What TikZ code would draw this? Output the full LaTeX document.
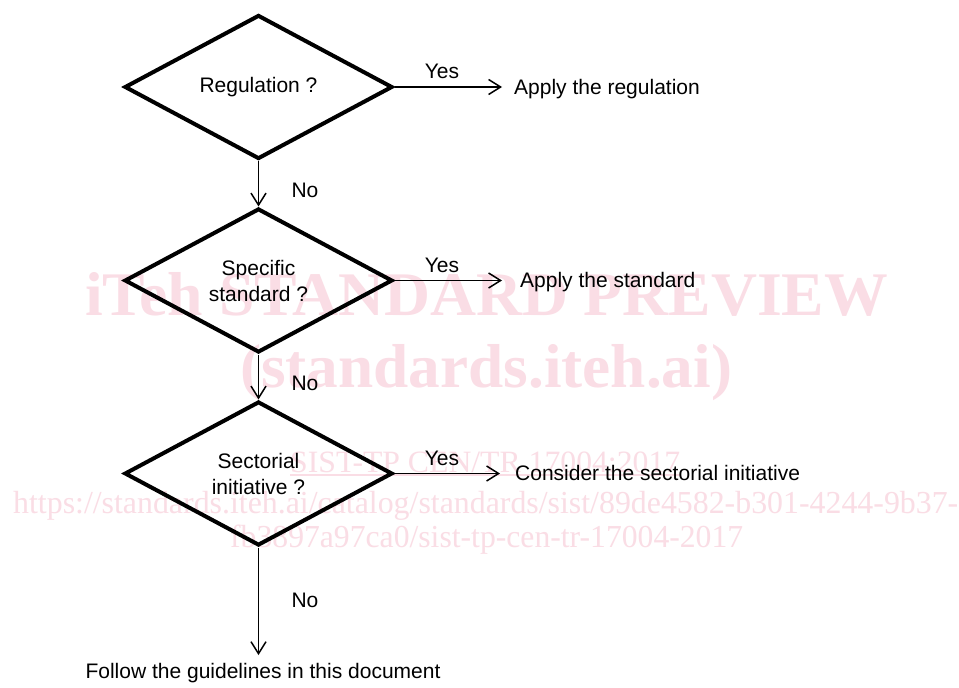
\documentclass[tikz,border=0pt]{standalone}
\usepackage{fontspec}
\usepackage{graphicx}
\setmainfont{Liberation Sans}
\newfontfamily\wmfont{Liberation Serif}
\usetikzlibrary{shapes.geometric,arrows.meta}
\definecolor{wmpink}{RGB}{250,221,229}
\begin{document}
\begin{tikzpicture}[x=1pt,y=-1pt,
  dec/.style={draw, diamond, line width=4pt, minimum width=268pt, minimum height=144pt,
    inner sep=0pt, align=center, font=\fontsize{21}{26}\selectfont},
  lbl/.style={inner sep=0pt, font=\fontsize{21}{26}\selectfont},
  conn/.style={line width=1.5pt, -{Straight Barb[length=12pt,width=15pt,line width=1.5pt]}},
  wm/.style={inner sep=0pt, anchor=base west, text=wmpink}]
\useasboundingbox[fill=white] (0,0) rectangle (959,688);

% watermark
\node[wm] (w1) at (85,315) {\resizebox{803pt}{\height}{\wmfont\bfseries\fontsize{62}{62}\selectfont iTeh STANDARD PREVIEW}};
\node[wm] (w2) at (240,387) {\resizebox{492pt}{\height}{\wmfont\bfseries\fontsize{62}{62}\selectfont (standards.iteh.ai)}};
\node[wm] (w3) at (290,472) {\resizebox{390pt}{\height}{\wmfont\fontsize{31}{31}\selectfont SIST-TP CEN/TR 17004:2017}};
\draw[wmpink, line width=1.5pt] ([yshift=-3pt]w3.base west) -- ([yshift=-3pt]w3.base east);
\node[wm] (w4) at (13,513) {\resizebox{945pt}{\height}{\wmfont\fontsize{32}{32}\selectfont https://standards.iteh.ai/catalog/standards/sist/89de4582-b301-4244-9b37-}};
\node[wm] (w5) at (230,547) {\resizebox{513pt}{\height}{\wmfont\fontsize{32}{32}\selectfont fb3897a97ca0/sist-tp-cen-tr-17004-2017}};

% decisions
\node[dec] (d1) at (258.5,87) {Regulation ?};
\node[dec] (d2) at (258.5,280.5) {Specific\\standard ?};
\node[dec] (d3) at (258.5,473.5) {Sectorial\\initiative ?};

% outcomes
\node[lbl, anchor=base west] (r1) at (514,94) {Apply the regulation};
\node[lbl, anchor=base west] (r2) at (520,287) {Apply the standard};
\node[lbl, anchor=base west] (r3) at (515,480) {Consider the sectorial initiative};
\node[lbl, anchor=base] (f) at (263,678) {Follow the guidelines in this document};

% connectors
\draw[conn, shorten >=12pt] (d1.east) -- (d1.east -| r1.west);
\draw[conn, shorten >=18pt] (d2.east) -- (d2.east -| r2.west);
\draw[conn, shorten >=15pt] (d3.east) -- (d3.east -| r3.west);
\draw[conn] (d1.south) -- (d2.north);
\draw[conn] (d2.south) -- (d3.north);
\draw[conn, shorten >=7.5pt] (d3.south) -- (d3.south |- f.north);

% labels
\node[lbl] (y1) at (442,71) {Yes};
\node[lbl] (y2) at (442,265) {Yes};
\node[lbl] (y3) at (442,458) {Yes};
\node[lbl] (n1) at (305,190) {No};
\node[lbl] (n2) at (305,383) {No};
\node[lbl] (n3) at (305,600) {No};
\end{tikzpicture}
\end{document}
